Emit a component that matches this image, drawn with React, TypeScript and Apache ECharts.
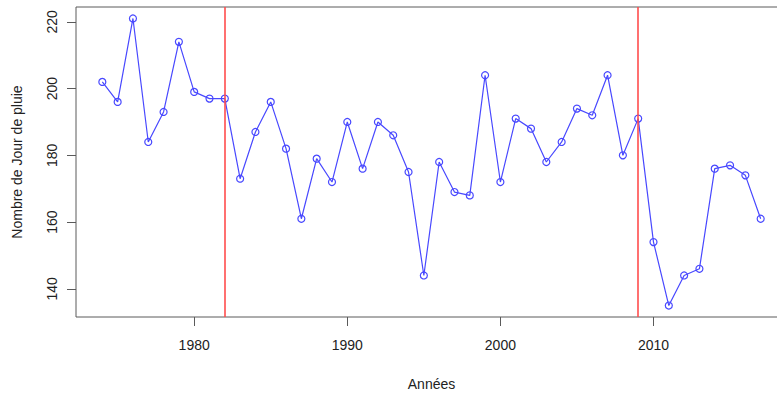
import React, { useEffect, useRef } from "react";
import * as echarts from "echarts";

const years: number[] = [
  1974, 1975, 1976, 1977, 1978, 1979, 1980, 1981, 1982, 1983, 1984, 1985, 1986, 1987,
  1988, 1989, 1990, 1991, 1992, 1993, 1994, 1995, 1996, 1997, 1998, 1999, 2000, 2001,
  2002, 2003, 2004, 2005, 2006, 2007, 2008, 2009, 2010, 2011, 2012, 2013, 2014, 2015,
  2016, 2017,
];
const rainDays: number[] = [
  202, 196, 221, 184, 193, 214, 199, 197, 197, 173, 187, 196, 182, 161,
  179, 172, 190, 176, 190, 186, 175, 144, 178, 169, 168, 204, 172, 191,
  188, 178, 184, 194, 192, 204, 180, 191, 154, 135, 144, 146, 176, 177,
  174, 161,
];
const breakYears: number[] = [1982, 2009];
const xTicks: number[] = [1980, 1990, 2000, 2010];
const yTicks: number[] = [140, 160, 180, 200, 220];

export default function App() {
  const ref = useRef<HTMLDivElement>(null);
  useEffect(() => {
    if (!ref.current) return;
    const chart = echarts.init(ref.current, undefined, { renderer: "svg" });
    const font = "'Liberation Sans', Arial, Helvetica, sans-serif";
    const xMin = years[0];
    const xMax = years[years.length - 1];
    const xPad = (xMax - xMin) * 0.04;
    const yMinV = Math.min(...rainDays);
    const yMaxV = Math.max(...rainDays);
    const yPad = (yMaxV - yMinV) * 0.04;
    chart.setOption({
      animation: false,
      backgroundColor: "#ffffff",
      grid: {
        left: 76,
        top: 7,
        width: 711,
        height: 310,
        show: true,
        borderColor: "#5a5a5a",
        borderWidth: 1,
        backgroundColor: "transparent",
      },
      xAxis: {
        type: "value",
        min: xMin - xPad,
        max: xMax + xPad,
        name: "Années",
        nameLocation: "middle",
        nameGap: 60,
        nameTextStyle: { fontFamily: font, fontSize: 14, color: "#222" },
        axisLine: { show: false },
        splitLine: { show: false },
        axisTick: {
          show: true,
          length: 9,
          customValues: xTicks,
          lineStyle: { color: "#5a5a5a", width: 1 },
        },
        axisLabel: {
          customValues: xTicks,
          formatter: (v: number) => String(Math.round(v)),
          margin: 21,
          fontFamily: font,
          fontSize: 14,
          color: "#222",
        },
      },
      yAxis: {
        type: "value",
        min: yMinV - yPad,
        max: yMaxV + yPad,
        name: "Nombre de Jour de pluie",
        nameLocation: "middle",
        nameGap: 52,
        nameRotate: 90,
        nameTextStyle: { fontFamily: font, fontSize: 14, color: "#222" },
        axisLine: { show: false },
        splitLine: { show: false },
        axisTick: {
          show: true,
          length: 9,
          customValues: yTicks,
          lineStyle: { color: "#5a5a5a", width: 1 },
        },
        axisLabel: {
          customValues: yTicks,
          formatter: (v: number) => String(Math.round(v)),
          rotate: 90,
          margin: 17,
          fontFamily: font,
          fontSize: 14,
          color: "#222",
        },
      },
      series: [
        {
          type: "line",
          data: years.map((y, i) => [y, rainDays[i]]),
          symbol: "circle",
          symbolSize: 7,
          showSymbol: true,
          lineStyle: { color: "#4848ff", width: 1.2 },
          itemStyle: { color: "transparent", borderColor: "#4848ff", borderWidth: 1.2 },
          markLine: {
            silent: true,
            symbol: ["none", "none"],
            label: { show: false },
            lineStyle: { color: "#ff4d4d", width: 1.6, type: "solid" },
            data: breakYears.map((v) => ({ xAxis: v })),
          },
        },
      ],
    });
    return () => chart.dispose();
  }, []);
  return (
    <div
      style={{
        position: "absolute",
        left: 0,
        top: 0,
        width: 777,
        height: 396,
        overflow: "hidden",
      }}
    >
      <div ref={ref} style={{ width: 800, height: 396 }} />
    </div>
  );
}
